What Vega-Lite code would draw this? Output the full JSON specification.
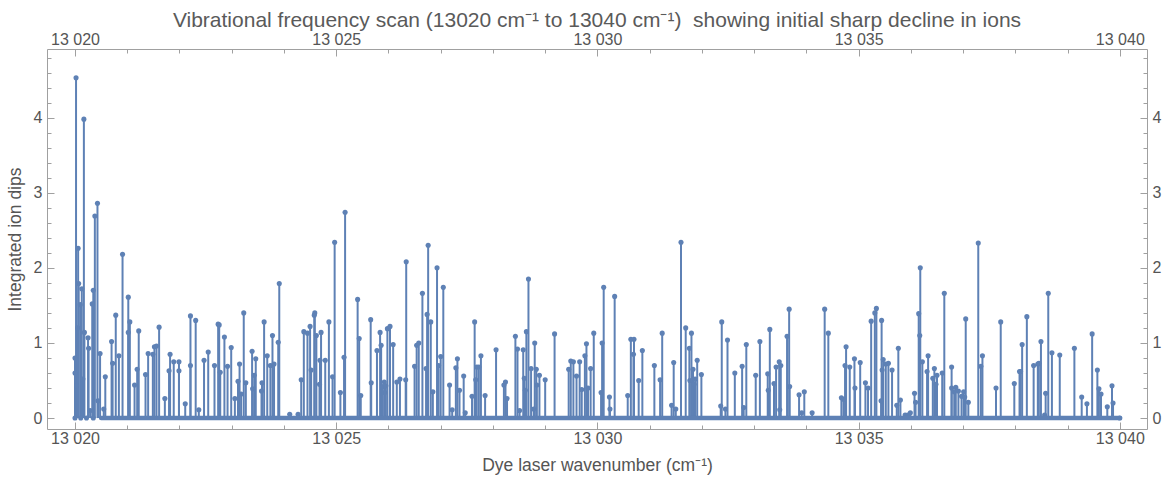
{
  "$schema": "https://vega.github.io/schema/vega-lite/v6.json",
  "width": 1100,
  "height": 380,
  "autosize": "none",
  "padding": {"left": 47, "top": 49, "right": 16, "bottom": 49},
  "title": {
    "text": "Vibrational frequency scan (13020 cm⁻¹ to 13040 cm⁻¹)\u00a0 showing initial sharp decline in ions",
    "font": "Liberation Sans",
    "fontSize": 21,
    "fontWeight": "normal",
    "color": "#5a5a5a",
    "offset": 0
  },
  "config": {
    "view": {"stroke": null},
    "axis": {
      "grid": false,
      "domainColor": "#a0a0a0",
      "tickColor": "#a0a0a0",
      "labelColor": "#555555",
      "labelFont": "Liberation Sans",
      "labelFontSize": 16,
      "titleFont": "Liberation Sans",
      "titleFontSize": 17.5,
      "titleFontWeight": "normal",
      "titleColor": "#555555"
    }
  },
  "datasets": {
    "scan": [
      {"wavenumber": 13020.00, "dips": 0.80}, {"wavenumber": 13020.00, "dips": 0.60}, {"wavenumber": 13020.00, "dips": 0},
      {"wavenumber": 13020.02, "dips": 4.53}, {"wavenumber": 13020.03, "dips": 0.43}, {"wavenumber": 13020.05, "dips": 1.20},
      {"wavenumber": 13020.06, "dips": 2.26}, {"wavenumber": 13020.07, "dips": 1.79}, {"wavenumber": 13020.10, "dips": 1.51},
      {"wavenumber": 13020.11, "dips": 0}, {"wavenumber": 13020.13, "dips": 1.72}, {"wavenumber": 13020.15, "dips": 0.52},
      {"wavenumber": 13020.17, "dips": 3.98}, {"wavenumber": 13020.18, "dips": 1.14}, {"wavenumber": 13020.22, "dips": 0},
      {"wavenumber": 13020.25, "dips": 1.07}, {"wavenumber": 13020.26, "dips": 0.93}, {"wavenumber": 13020.29, "dips": 0.10},
      {"wavenumber": 13020.33, "dips": 1.52}, {"wavenumber": 13020.35, "dips": 1.70}, {"wavenumber": 13020.35, "dips": 0},
      {"wavenumber": 13020.38, "dips": 2.69}, {"wavenumber": 13020.43, "dips": 2.86}, {"wavenumber": 13020.44, "dips": 0.23},
      {"wavenumber": 13020.48, "dips": 0.86}, {"wavenumber": 13020.55, "dips": 0.12}, {"wavenumber": 13020.58, "dips": 0.55},
      {"wavenumber": 13020.70, "dips": 1.02}, {"wavenumber": 13020.72, "dips": 0.73}, {"wavenumber": 13020.78, "dips": 1.37},
      {"wavenumber": 13020.84, "dips": 0.83}, {"wavenumber": 13020.91, "dips": 2.18}, {"wavenumber": 13021.02, "dips": 1.61},
      {"wavenumber": 13021.02, "dips": 1.14}, {"wavenumber": 13021.05, "dips": 1.28}, {"wavenumber": 13021.14, "dips": 0.44},
      {"wavenumber": 13021.19, "dips": 0.65}, {"wavenumber": 13021.22, "dips": 1.16}, {"wavenumber": 13021.35, "dips": 0.58},
      {"wavenumber": 13021.40, "dips": 0.86}, {"wavenumber": 13021.49, "dips": 0.85}, {"wavenumber": 13021.52, "dips": 0.95},
      {"wavenumber": 13021.56, "dips": 0.96}, {"wavenumber": 13021.61, "dips": 1.21}, {"wavenumber": 13021.72, "dips": 0.26},
      {"wavenumber": 13021.80, "dips": 0.63}, {"wavenumber": 13021.82, "dips": 0.85}, {"wavenumber": 13021.89, "dips": 0.75},
      {"wavenumber": 13021.99, "dips": 0.75}, {"wavenumber": 13021.99, "dips": 0.63}, {"wavenumber": 13022.11, "dips": 0.19},
      {"wavenumber": 13022.21, "dips": 1.36}, {"wavenumber": 13022.21, "dips": 0.70}, {"wavenumber": 13022.31, "dips": 1.30},
      {"wavenumber": 13022.37, "dips": 0.11}, {"wavenumber": 13022.47, "dips": 0.77}, {"wavenumber": 13022.55, "dips": 0.88},
      {"wavenumber": 13022.67, "dips": 0.70}, {"wavenumber": 13022.74, "dips": 1.25}, {"wavenumber": 13022.76, "dips": 1.24},
      {"wavenumber": 13022.78, "dips": 0.61}, {"wavenumber": 13022.86, "dips": 1.08}, {"wavenumber": 13022.92, "dips": 0.69},
      {"wavenumber": 13022.99, "dips": 0.94}, {"wavenumber": 13023.06, "dips": 0.26}, {"wavenumber": 13023.12, "dips": 0.49},
      {"wavenumber": 13023.15, "dips": 0.72}, {"wavenumber": 13023.18, "dips": 0.32}, {"wavenumber": 13023.23, "dips": 1.40},
      {"wavenumber": 13023.27, "dips": 0.47}, {"wavenumber": 13023.39, "dips": 0.89}, {"wavenumber": 13023.40, "dips": 0.39},
      {"wavenumber": 13023.43, "dips": 0.57}, {"wavenumber": 13023.46, "dips": 0.79}, {"wavenumber": 13023.57, "dips": 0.36},
      {"wavenumber": 13023.58, "dips": 0.47}, {"wavenumber": 13023.62, "dips": 1.28}, {"wavenumber": 13023.68, "dips": 0.83},
      {"wavenumber": 13023.74, "dips": 0.70}, {"wavenumber": 13023.78, "dips": 1.10}, {"wavenumber": 13023.81, "dips": 0.72},
      {"wavenumber": 13023.89, "dips": 1.01}, {"wavenumber": 13023.91, "dips": 1.79}, {"wavenumber": 13024.11, "dips": 0.05},
      {"wavenumber": 13024.27, "dips": 0.05}, {"wavenumber": 13024.33, "dips": 0.51}, {"wavenumber": 13024.38, "dips": 1.15},
      {"wavenumber": 13024.45, "dips": 1.13}, {"wavenumber": 13024.50, "dips": 1.22}, {"wavenumber": 13024.52, "dips": 0.64},
      {"wavenumber": 13024.58, "dips": 1.37}, {"wavenumber": 13024.59, "dips": 1.40}, {"wavenumber": 13024.62, "dips": 1.10},
      {"wavenumber": 13024.68, "dips": 0.45}, {"wavenumber": 13024.69, "dips": 0.77}, {"wavenumber": 13024.71, "dips": 1.14},
      {"wavenumber": 13024.79, "dips": 0.77}, {"wavenumber": 13024.86, "dips": 1.28}, {"wavenumber": 13024.93, "dips": 0.55},
      {"wavenumber": 13024.97, "dips": 2.34}, {"wavenumber": 13025.08, "dips": 0.34}, {"wavenumber": 13025.15, "dips": 0.81},
      {"wavenumber": 13025.17, "dips": 2.74}, {"wavenumber": 13025.41, "dips": 1.58}, {"wavenumber": 13025.44, "dips": 1.06},
      {"wavenumber": 13025.47, "dips": 0.30}, {"wavenumber": 13025.66, "dips": 1.31}, {"wavenumber": 13025.67, "dips": 0.47},
      {"wavenumber": 13025.78, "dips": 0.90}, {"wavenumber": 13025.84, "dips": 1.14}, {"wavenumber": 13025.86, "dips": 0.97},
      {"wavenumber": 13025.89, "dips": 0.42}, {"wavenumber": 13025.92, "dips": 0.48}, {"wavenumber": 13025.93, "dips": 0.34},
      {"wavenumber": 13025.95, "dips": 0.43}, {"wavenumber": 13025.98, "dips": 1.19}, {"wavenumber": 13026.03, "dips": 1.22},
      {"wavenumber": 13026.09, "dips": 0.98}, {"wavenumber": 13026.16, "dips": 0.48}, {"wavenumber": 13026.22, "dips": 0.52},
      {"wavenumber": 13026.33, "dips": 0.51}, {"wavenumber": 13026.34, "dips": 2.08}, {"wavenumber": 13026.50, "dips": 0.69},
      {"wavenumber": 13026.54, "dips": 0.97}, {"wavenumber": 13026.58, "dips": 1.00}, {"wavenumber": 13026.65, "dips": 1.66},
      {"wavenumber": 13026.72, "dips": 0.66}, {"wavenumber": 13026.74, "dips": 1.38}, {"wavenumber": 13026.76, "dips": 2.30},
      {"wavenumber": 13026.81, "dips": 1.28}, {"wavenumber": 13026.85, "dips": 0.35}, {"wavenumber": 13026.93, "dips": 2.00},
      {"wavenumber": 13026.96, "dips": 0.70}, {"wavenumber": 13027.00, "dips": 0.82}, {"wavenumber": 13027.05, "dips": 1.74},
      {"wavenumber": 13027.17, "dips": 0.44}, {"wavenumber": 13027.22, "dips": 0.11}, {"wavenumber": 13027.29, "dips": 0.67},
      {"wavenumber": 13027.32, "dips": 0.79}, {"wavenumber": 13027.36, "dips": 0.37}, {"wavenumber": 13027.44, "dips": 0.56},
      {"wavenumber": 13027.47, "dips": 0.07}, {"wavenumber": 13027.60, "dips": 0.29}, {"wavenumber": 13027.65, "dips": 1.28},
      {"wavenumber": 13027.67, "dips": 0.51}, {"wavenumber": 13027.69, "dips": 0.68}, {"wavenumber": 13027.73, "dips": 0.68},
      {"wavenumber": 13027.77, "dips": 0.83}, {"wavenumber": 13027.85, "dips": 0.30}, {"wavenumber": 13028.06, "dips": 0.91},
      {"wavenumber": 13028.21, "dips": 0.44}, {"wavenumber": 13028.24, "dips": 0.48}, {"wavenumber": 13028.27, "dips": 0.26},
      {"wavenumber": 13028.43, "dips": 1.09}, {"wavenumber": 13028.47, "dips": 0.92}, {"wavenumber": 13028.51, "dips": 0.10},
      {"wavenumber": 13028.58, "dips": 0.91}, {"wavenumber": 13028.60, "dips": 0.53}, {"wavenumber": 13028.62, "dips": 0.37},
      {"wavenumber": 13028.64, "dips": 1.15}, {"wavenumber": 13028.68, "dips": 1.85}, {"wavenumber": 13028.73, "dips": 0.66},
      {"wavenumber": 13028.78, "dips": 0.12}, {"wavenumber": 13028.80, "dips": 1.00}, {"wavenumber": 13028.83, "dips": 0.65},
      {"wavenumber": 13028.84, "dips": 0.44}, {"wavenumber": 13028.89, "dips": 0.57}, {"wavenumber": 13029.00, "dips": 0.51},
      {"wavenumber": 13029.18, "dips": 1.12}, {"wavenumber": 13029.45, "dips": 0.65}, {"wavenumber": 13029.49, "dips": 0.76},
      {"wavenumber": 13029.54, "dips": 0.75}, {"wavenumber": 13029.60, "dips": 0.56}, {"wavenumber": 13029.66, "dips": 0.75},
      {"wavenumber": 13029.70, "dips": 0.38}, {"wavenumber": 13029.76, "dips": 0.83}, {"wavenumber": 13029.79, "dips": 0.99},
      {"wavenumber": 13029.82, "dips": 0.40}, {"wavenumber": 13029.87, "dips": 0.66}, {"wavenumber": 13029.93, "dips": 1.13},
      {"wavenumber": 13030.07, "dips": 0.34}, {"wavenumber": 13030.09, "dips": 1.00}, {"wavenumber": 13030.12, "dips": 1.74},
      {"wavenumber": 13030.23, "dips": 0.28}, {"wavenumber": 13030.24, "dips": 0.12}, {"wavenumber": 13030.33, "dips": 1.62},
      {"wavenumber": 13030.58, "dips": 0.30}, {"wavenumber": 13030.64, "dips": 1.05}, {"wavenumber": 13030.69, "dips": 0.85},
      {"wavenumber": 13030.70, "dips": 1.05}, {"wavenumber": 13030.79, "dips": 0.50}, {"wavenumber": 13030.86, "dips": 0.90},
      {"wavenumber": 13031.09, "dips": 0.70}, {"wavenumber": 13031.20, "dips": 0.51}, {"wavenumber": 13031.24, "dips": 1.13},
      {"wavenumber": 13031.42, "dips": 0.17}, {"wavenumber": 13031.46, "dips": 0.74}, {"wavenumber": 13031.50, "dips": 0.12},
      {"wavenumber": 13031.60, "dips": 2.34}, {"wavenumber": 13031.69, "dips": 1.20}, {"wavenumber": 13031.76, "dips": 0.93},
      {"wavenumber": 13031.77, "dips": 0.50}, {"wavenumber": 13031.80, "dips": 1.13}, {"wavenumber": 13031.83, "dips": 0.65},
      {"wavenumber": 13031.85, "dips": 0.45}, {"wavenumber": 13031.87, "dips": 0.52}, {"wavenumber": 13031.91, "dips": 0.77},
      {"wavenumber": 13031.99, "dips": 0.58}, {"wavenumber": 13032.36, "dips": 0.16}, {"wavenumber": 13032.38, "dips": 1.28},
      {"wavenumber": 13032.45, "dips": 0.12}, {"wavenumber": 13032.49, "dips": 1.04}, {"wavenumber": 13032.63, "dips": 0.60},
      {"wavenumber": 13032.77, "dips": 0.69}, {"wavenumber": 13032.80, "dips": 0.14}, {"wavenumber": 13032.85, "dips": 0.98},
      {"wavenumber": 13033.03, "dips": 0.57}, {"wavenumber": 13033.11, "dips": 1.02}, {"wavenumber": 13033.26, "dips": 0.59},
      {"wavenumber": 13033.27, "dips": 0.37}, {"wavenumber": 13033.30, "dips": 1.18}, {"wavenumber": 13033.38, "dips": 0.46},
      {"wavenumber": 13033.42, "dips": 0.68}, {"wavenumber": 13033.48, "dips": 0.75}, {"wavenumber": 13033.49, "dips": 0.11},
      {"wavenumber": 13033.51, "dips": 0.70}, {"wavenumber": 13033.63, "dips": 1.09}, {"wavenumber": 13033.67, "dips": 1.45},
      {"wavenumber": 13033.68, "dips": 0.42}, {"wavenumber": 13033.86, "dips": 0.31}, {"wavenumber": 13033.91, "dips": 0.07},
      {"wavenumber": 13033.96, "dips": 0.35}, {"wavenumber": 13034.11, "dips": 0.07}, {"wavenumber": 13034.35, "dips": 1.45},
      {"wavenumber": 13034.42, "dips": 1.13}, {"wavenumber": 13034.67, "dips": 0.27}, {"wavenumber": 13034.71, "dips": 0.25},
      {"wavenumber": 13034.74, "dips": 0.70}, {"wavenumber": 13034.76, "dips": 0.95}, {"wavenumber": 13034.83, "dips": 0.68},
      {"wavenumber": 13034.92, "dips": 0.79}, {"wavenumber": 13034.93, "dips": 0.40}, {"wavenumber": 13035.03, "dips": 0.74},
      {"wavenumber": 13035.13, "dips": 0.47}, {"wavenumber": 13035.18, "dips": 0.40}, {"wavenumber": 13035.24, "dips": 1.29},
      {"wavenumber": 13035.31, "dips": 1.40}, {"wavenumber": 13035.34, "dips": 1.46}, {"wavenumber": 13035.43, "dips": 0.23},
      {"wavenumber": 13035.44, "dips": 1.30}, {"wavenumber": 13035.45, "dips": 0.64}, {"wavenumber": 13035.47, "dips": 0.78},
      {"wavenumber": 13035.52, "dips": 0.72}, {"wavenumber": 13035.57, "dips": 0.73}, {"wavenumber": 13035.64, "dips": 0.64},
      {"wavenumber": 13035.73, "dips": 0.17}, {"wavenumber": 13035.76, "dips": 0.93}, {"wavenumber": 13035.80, "dips": 0.24},
      {"wavenumber": 13035.89, "dips": 0.04}, {"wavenumber": 13035.94, "dips": 0.04}, {"wavenumber": 13035.99, "dips": 0.07},
      {"wavenumber": 13036.07, "dips": 0.33}, {"wavenumber": 13036.09, "dips": 0.21}, {"wavenumber": 13036.15, "dips": 1.39},
      {"wavenumber": 13036.17, "dips": 1.10}, {"wavenumber": 13036.18, "dips": 2.00}, {"wavenumber": 13036.22, "dips": 0.75},
      {"wavenumber": 13036.31, "dips": 0.62}, {"wavenumber": 13036.33, "dips": 0.83}, {"wavenumber": 13036.42, "dips": 0.53},
      {"wavenumber": 13036.45, "dips": 0.66}, {"wavenumber": 13036.48, "dips": 0.45}, {"wavenumber": 13036.50, "dips": 0.57},
      {"wavenumber": 13036.60, "dips": 0.60}, {"wavenumber": 13036.64, "dips": 1.66}, {"wavenumber": 13036.78, "dips": 0.68},
      {"wavenumber": 13036.78, "dips": 0.40}, {"wavenumber": 13036.83, "dips": 0.35}, {"wavenumber": 13036.86, "dips": 0.41},
      {"wavenumber": 13036.91, "dips": 0.36}, {"wavenumber": 13036.97, "dips": 0.29}, {"wavenumber": 13037.01, "dips": 0.35},
      {"wavenumber": 13037.03, "dips": 0.28}, {"wavenumber": 13037.05, "dips": 1.32}, {"wavenumber": 13037.10, "dips": 0.21},
      {"wavenumber": 13037.29, "dips": 2.33}, {"wavenumber": 13037.34, "dips": 0.69}, {"wavenumber": 13037.37, "dips": 0.83},
      {"wavenumber": 13037.63, "dips": 0.40}, {"wavenumber": 13037.72, "dips": 1.28}, {"wavenumber": 13037.98, "dips": 0.46},
      {"wavenumber": 13038.08, "dips": 0.62}, {"wavenumber": 13038.10, "dips": 0.62}, {"wavenumber": 13038.13, "dips": 0.98},
      {"wavenumber": 13038.22, "dips": 1.35}, {"wavenumber": 13038.35, "dips": 0.70}, {"wavenumber": 13038.43, "dips": 0.72},
      {"wavenumber": 13038.45, "dips": 0.73}, {"wavenumber": 13038.49, "dips": 1.02}, {"wavenumber": 13038.56, "dips": 0.04},
      {"wavenumber": 13038.58, "dips": 0.33}, {"wavenumber": 13038.63, "dips": 1.66}, {"wavenumber": 13038.70, "dips": 0.87},
      {"wavenumber": 13038.85, "dips": 0.84}, {"wavenumber": 13039.13, "dips": 0.93}, {"wavenumber": 13039.27, "dips": 0.28},
      {"wavenumber": 13039.37, "dips": 0.19}, {"wavenumber": 13039.47, "dips": 1.12}, {"wavenumber": 13039.57, "dips": 0.64},
      {"wavenumber": 13039.60, "dips": 0.39}, {"wavenumber": 13039.64, "dips": 0.32}, {"wavenumber": 13039.76, "dips": 0.15},
      {"wavenumber": 13039.85, "dips": 0.43}, {"wavenumber": 13039.87, "dips": 0.20}, {"wavenumber": 13040.00, "dips": 0}
    ],
    "baseline": [
      {"wavenumber": 13020.5, "dips": 0},
      {"wavenumber": 13040.0, "dips": 0}
    ]
  },
  "layer": [
    {
      "data": {"name": "scan"},
      "mark": {"type": "rule", "color": "#5E81B5", "strokeWidth": 2},
      "encoding": {
        "x": {
          "field": "wavenumber", "type": "quantitative",
          "scale": {"domain": [13019.464, 13040.52], "nice": false, "zero": false},
          "axis": {
            "orient": "bottom", "title": "Dye laser wavenumber (cm⁻¹)",
            "values": [13020, 13025, 13030, 13035, 13040],
            "labelExpr": "replace(format(datum.value, ','), ',', ' ')",
            "tickSize": -7, "labelPadding": 8, "titlePadding": 10
          }
        },
        "y": {
          "field": "dips", "type": "quantitative",
          "scale": {"domain": [-0.146, 4.914], "nice": false, "zero": false},
          "axis": {
            "orient": "left", "title": "Integrated ion dips",
            "values": [0, 1, 2, 3, 4],
            "tickSize": -7, "labelPadding": 12, "titlePadding": 9
          }
        },
        "y2": {"datum": 0}
      }
    },
    {
      "data": {"name": "scan"},
      "mark": {"type": "point", "filled": true, "color": "#5E81B5", "size": 26, "opacity": 1},
      "encoding": {
        "x": {
          "field": "wavenumber", "type": "quantitative",
          "scale": {"domain": [13019.464, 13040.52], "nice": false, "zero": false},
          "axis": {
            "orient": "top", "title": null,
            "values": [13020, 13025, 13030, 13035, 13040],
            "labelExpr": "replace(format(datum.value, ','), ',', ' ')",
            "tickSize": -7, "labelPadding": 9
          }
        },
        "y": {
          "field": "dips", "type": "quantitative",
          "scale": {"domain": [-0.146, 4.914], "nice": false, "zero": false},
          "axis": {
            "orient": "right", "title": null,
            "values": [0, 1, 2, 3, 4],
            "tickSize": -7, "labelPadding": 12
          }
        }
      }
    },
    {
      "data": {"name": "baseline"},
      "mark": {"type": "line", "color": "#5E81B5", "strokeWidth": 4.5, "strokeCap": "round"},
      "encoding": {
        "x": {
          "field": "wavenumber", "type": "quantitative",
          "scale": {"domain": [13019.464, 13040.52], "nice": false, "zero": false},
          "axis": {
            "orient": "bottom", "title": null, "labels": false, "domain": false,
            "values": [13021, 13022, 13023, 13024, 13026, 13027, 13028, 13029, 13031, 13032, 13033, 13034, 13036, 13037, 13038, 13039],
            "tickSize": -4
          }
        },
        "y": {
          "field": "dips", "type": "quantitative",
          "scale": {"domain": [-0.146, 4.914], "nice": false, "zero": false},
          "axis": {
            "orient": "left", "title": null, "labels": false, "domain": false,
            "values": [0.2, 0.4, 0.6, 0.8, 1.2, 1.4, 1.6, 1.8, 2.2, 2.4, 2.6, 2.8, 3.2, 3.4, 3.6, 3.8, 4.2, 4.4, 4.6, 4.8],
            "tickSize": -4
          }
        }
      }
    },
    {
      "data": {"name": "baseline"},
      "mark": {"type": "point", "opacity": 0},
      "encoding": {
        "x": {
          "field": "wavenumber", "type": "quantitative",
          "scale": {"domain": [13019.464, 13040.52], "nice": false, "zero": false},
          "axis": {
            "orient": "top", "title": null, "labels": false, "domain": false,
            "values": [13021, 13022, 13023, 13024, 13026, 13027, 13028, 13029, 13031, 13032, 13033, 13034, 13036, 13037, 13038, 13039],
            "tickSize": -4
          }
        },
        "y": {
          "field": "dips", "type": "quantitative",
          "scale": {"domain": [-0.146, 4.914], "nice": false, "zero": false},
          "axis": {
            "orient": "right", "title": null, "labels": false, "domain": false,
            "values": [0.2, 0.4, 0.6, 0.8, 1.2, 1.4, 1.6, 1.8, 2.2, 2.4, 2.6, 2.8, 3.2, 3.4, 3.6, 3.8, 4.2, 4.4, 4.6, 4.8],
            "tickSize": -4
          }
        }
      }
    }
  ],
  "resolve": {"axis": {"x": "independent", "y": "independent"}}
}
